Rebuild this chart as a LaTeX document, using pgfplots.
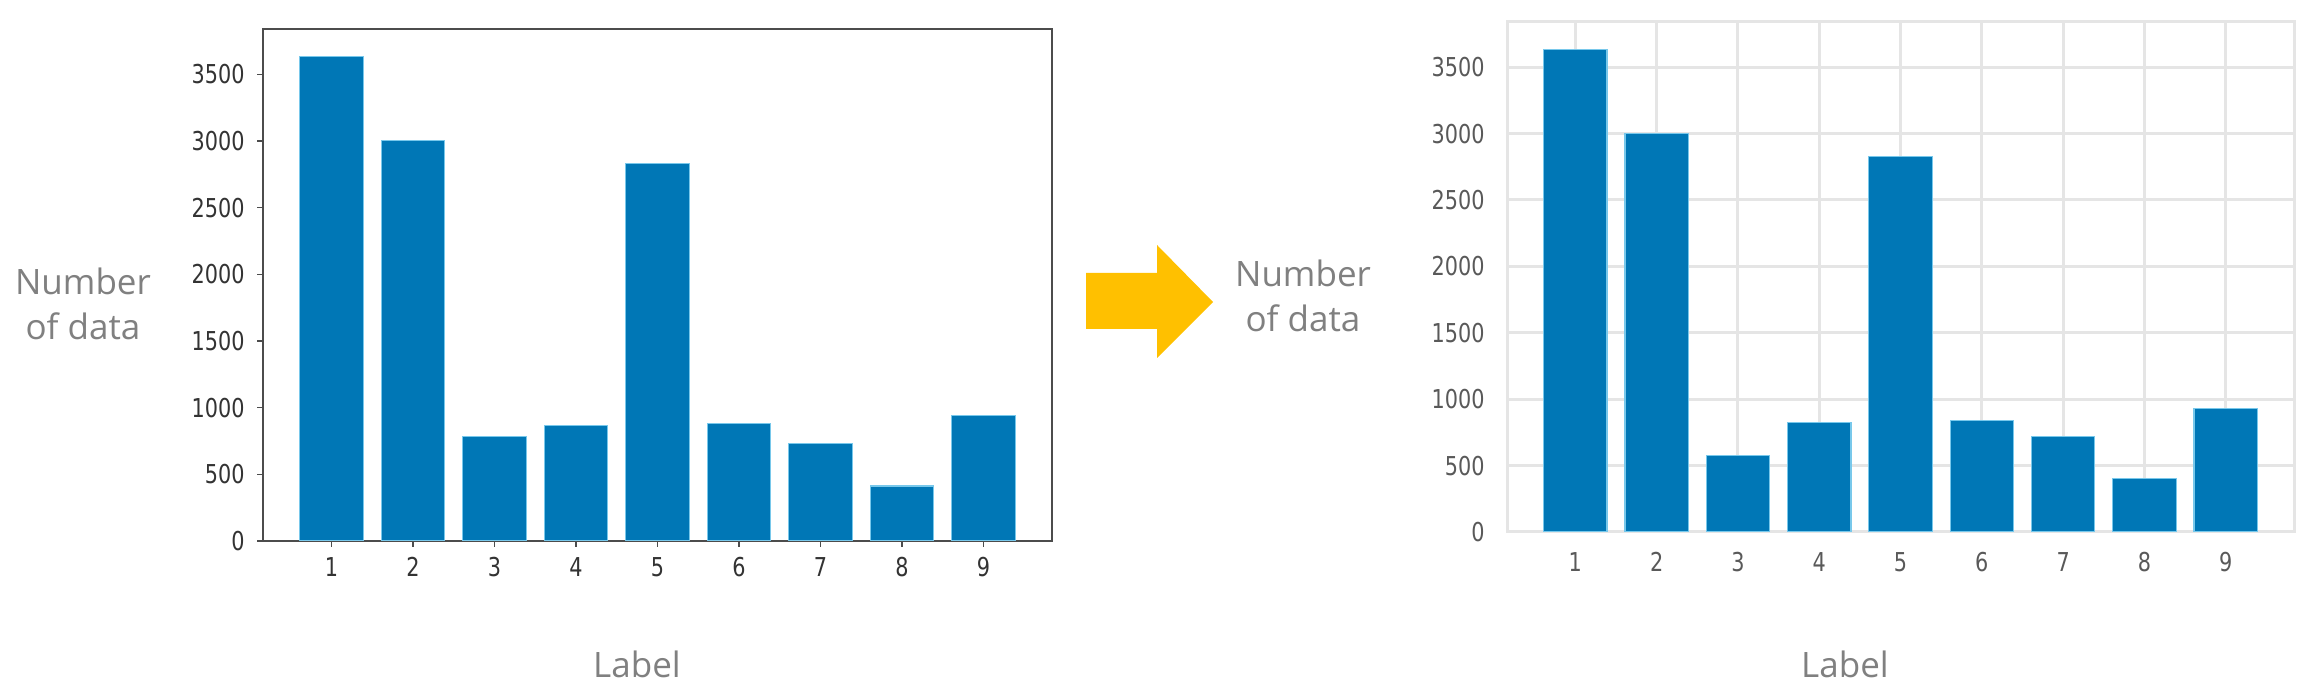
\documentclass[border=0pt]{standalone}
\usepackage{fontspec}
\setmainfont{Open Sans}
\newfontfamily\tickfont[FakeStretch=0.8]{DejaVu Sans}
\usepackage{pgfplots}
\pgfplotsset{compat=1.18}
\definecolor{barblue}{RGB}{0,119,182}
\definecolor{edgeblue}{RGB}{120,200,235}
\definecolor{txtgray}{RGB}{128,128,128}
\definecolor{arrowc}{RGB}{255,192,0}
\definecolor{gridc}{RGB}{229,229,229}
\begin{document}
\begin{tikzpicture}
\useasboundingbox (0,0) rectangle (1155.5bp,346bp);
\pgfplotsset{
  common/.style={
    scale only axis,
    width=394.5bp, height=256bp,
    xmin=0.16, xmax=9.84, ymin=0, ymax=3840,
    xtick={1,2,3,4,5,6,7,8,9},
    ytick={0,500,1000,1500,2000,2500,3000,3500},
    /pgf/number format/assume math mode=true,
    /pgf/number format/1000 sep={},
    ticklabel style={font=\tickfont\fontsize{13bp}{13bp}\selectfont},
  },
}
% left chart
\begin{axis}[common,
  at={(131.5bp,75.5bp)},
  axis line style={draw=black!70, line width=1bp},
  tick align=outside, major tick length=3bp,
  tick style={draw=black!70, line width=0.8bp},
  xtick pos=bottom, ytick pos=left,
  ticklabel style={text=black!80},
  yticklabel style={inner sep=0pt, xshift=-6bp},
  xticklabel style={inner sep=0pt, yshift=-5bp},
]
\addplot[ybar, bar width=0.78, fill=barblue, draw=edgeblue, line width=0.6bp]
 coordinates {(1,3635) (2,3006) (3,781) (4,867) (5,2831) (6,883) (7,732) (8,412) (9,939)};
\end{axis}
% right chart
\begin{axis}[common,
  at={(753.5bp,80bp)},
  width=393.5bp, height=255bp,
  axis line style={draw=gridc, line width=1.5bp},
  grid=major, grid style={draw=gridc, line width=1.5bp},
  major tick length=0pt,
  ticklabel style={text=black!65},
  yticklabel style={inner sep=0pt, xshift=-11bp},
  xticklabel style={inner sep=0pt, yshift=-10bp},
  axis on top=false,
]
\addplot[ybar, bar width=0.78, fill=barblue, draw=edgeblue, line width=0.6bp]
 coordinates {(1,3632) (2,2999) (3,577) (4,824) (5,2825) (6,840) (7,718) (8,405) (9,929)};
\end{axis}
% arrow
\fill[arrowc] (543bp,209.5bp) -- (578.5bp,209.5bp) -- (578.5bp,223.5bp) -- (606.5bp,195bp)
  -- (578.5bp,167bp) -- (578.5bp,181.5bp) -- (543bp,181.5bp) -- cycle;
% texts
\begin{scope}[every node/.style={text=txtgray, font=\fontsize{17.5bp}{21bp}\selectfont, inner sep=0pt, anchor=base}]
\node at (41.5bp,198.5bp) {Number};
\node at (41.5bp,176bp) {of data};
\node at (651.5bp,202.5bp) {Number};
\node at (651.5bp,180bp) {of data};
\node at (318.5bp,7.5bp) {Label};
\node at (922.5bp,7.5bp) {Label};
\end{scope}
\end{tikzpicture}
\end{document}
